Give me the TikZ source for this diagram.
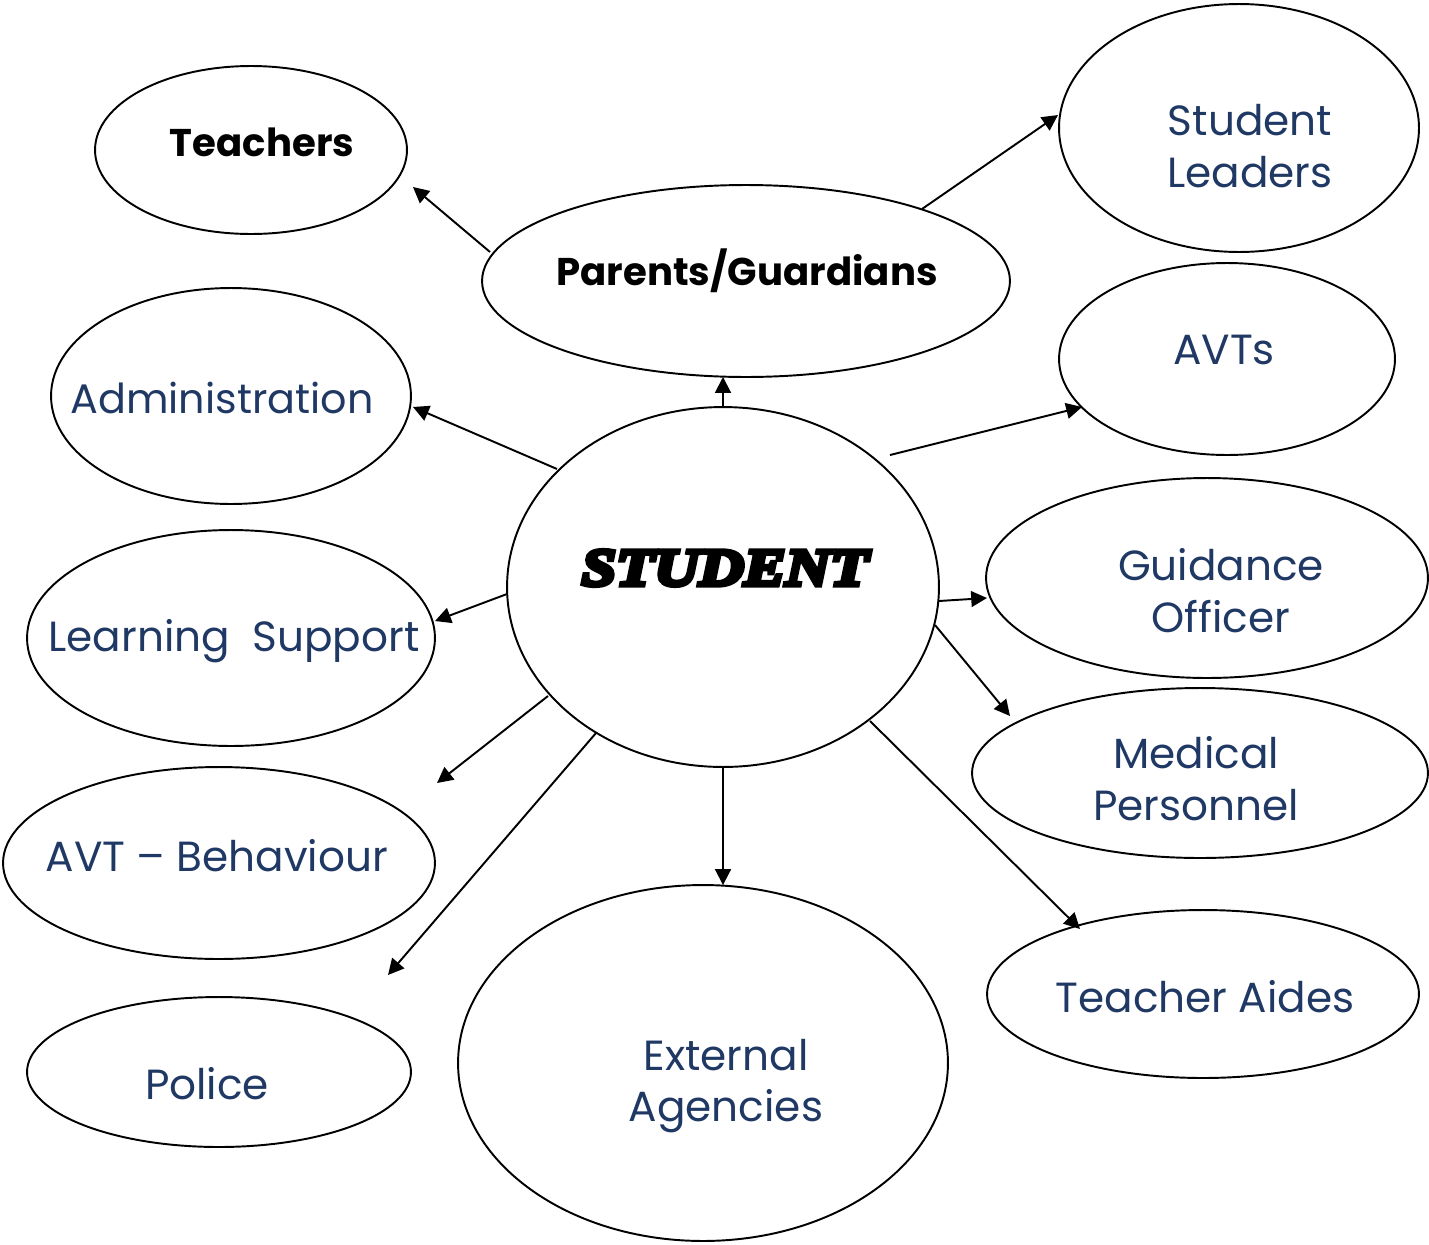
\documentclass[tikz,border=0pt]{standalone}
\usepackage{fontspec}
\usetikzlibrary{shapes.geometric,arrows.meta}
\newfontfamily\gothic{Poppins}
\newfontfamily\gothicbold{Poppins Bold}
\newfontfamily\studfont{Liberation Serif}[FakeBold=9,FakeStretch=1.18]
\definecolor{navy}{RGB}{31,56,100}
\tikzset{
  ell/.style={draw=black,line width=1.1pt,ellipse,inner sep=0pt,outer sep=0pt},
  lab/.style={text=navy,font=\gothic\fontsize{24}{29.5}\selectfont,align=center,inner sep=0pt},
  blab/.style={text=black,font=\gothicbold\fontsize{22}{27}\selectfont,align=center,inner sep=0pt},
  arr/.style={line width=1.1pt,-{Triangle[length=9pt,width=9pt]}},
}
\begin{document}
\begin{tikzpicture}[x=0.02cm,y=-0.02cm]
\useasboundingbox (0,0) rectangle (1429,1244);
% ellipses
\node[ell,minimum width=6.24cm,minimum height=3.36cm] (teach) at (251,150) {};
\node[ell,minimum width=10.56cm,minimum height=3.84cm] (par) at (746,281) {};
\node[ell,minimum width=7.2cm,minimum height=4.96cm] (sl) at (1239,128) {};
\node[ell,minimum width=6.72cm,minimum height=3.84cm] (avts) at (1227,359) {};
\node[ell,minimum width=7.2cm,minimum height=4.32cm] (adm) at (231,396) {};
\node[ell,minimum width=8.64cm,minimum height=7.2cm] (stu) at (723,587) {};
\node[ell,minimum width=8.84cm,minimum height=4.0cm] (guid) at (1207,578) {};
\node[ell,minimum width=8.16cm,minimum height=4.32cm] (ls) at (231,638) {};
\node[ell,minimum width=9.12cm,minimum height=3.4cm] (med) at (1200,773) {};
\node[ell,minimum width=8.64cm,minimum height=3.84cm] (avtb) at (219,863) {};
\node[ell,minimum width=8.64cm,minimum height=3.36cm] (ta) at (1203,994) {};
\node[ell,minimum width=7.68cm,minimum height=3.0cm] (pol) at (219,1072) {};
\node[ell,minimum width=9.8cm,minimum height=7.12cm] (ext) at (703,1063) {};
% labels
\node[blab] (teachT) at (262,142) {Teachers};
\node[blab] (parT) at (747,271) {Parents/Guardians};
\node[lab] (slT) at (1250,146) {Student\\Leaders};
\node[lab] (avtsT) at (1224,350) {AVTs};
\node[lab,font=\gothic\fontsize{23.5}{29.5}\selectfont] (admT) at (222,398) {Administration};
\node[inner sep=0pt,font=\studfont\bfseries\itshape\fontsize{30}{36}\selectfont] (stuT) at (725,568) {STUDENT};
\node[lab] (guidT) at (1221,591) {Guidance\\Officer};
\node[lab] (lsT) at (234,641) {Learning\ \ Support};
\node[lab] (medT) at (1196,779) {Medical\\Personnel};
\node[lab] (avtbT) at (217,856) {AVT – Behaviour};
\node[lab] (taT) at (1205,997) {Teacher Aides};
\node[lab] (polT) at (207,1084) {Police};
\node[lab] (extT) at (726,1086) {External\\Agencies};
% connector end points
\coordinate (a1s) at (490,252); \coordinate (a1e) at (413,187);
\coordinate (a3s) at (922,209); \coordinate (a3e) at (1058,115);
\coordinate (a4s) at (890,455); \coordinate (a4e) at (1082,407);
\coordinate (a5s) at (557,469); \coordinate (a5e) at (413,407);
\coordinate (a6s) at (507,594); \coordinate (a6e) at (435,621);
\coordinate (a7s) at (939,601); \coordinate (a7e) at (987,598);
\coordinate (a8s) at (935,625); \coordinate (a8e) at (1010,716);
\coordinate (a9s) at (548,696); \coordinate (a9e) at (437,783);
\coordinate (a10s) at (596,733); \coordinate (a10e) at (388,975);
\coordinate (a12s) at (870,721); \coordinate (a12e) at (1080,929);
% connectors
\draw[arr] (a1s) -- (a1e);
\draw[arr] (stu.north) -- (stu.north |- par.south);
\draw[arr] (a3s) -- (a3e);
\draw[arr] (a4s) -- (a4e);
\draw[arr] (a5s) -- (a5e);
\draw[arr] (a6s) -- (a6e);
\draw[arr] (a7s) -- (a7e);
\draw[arr] (a8s) -- (a8e);
\draw[arr] (a9s) -- (a9e);
\draw[arr] (a10s) -- (a10e);
\draw[arr] (stu.south) -- (stu.south |- ext.north);
\draw[arr] (a12s) -- (a12e);
\end{tikzpicture}
\end{document}
